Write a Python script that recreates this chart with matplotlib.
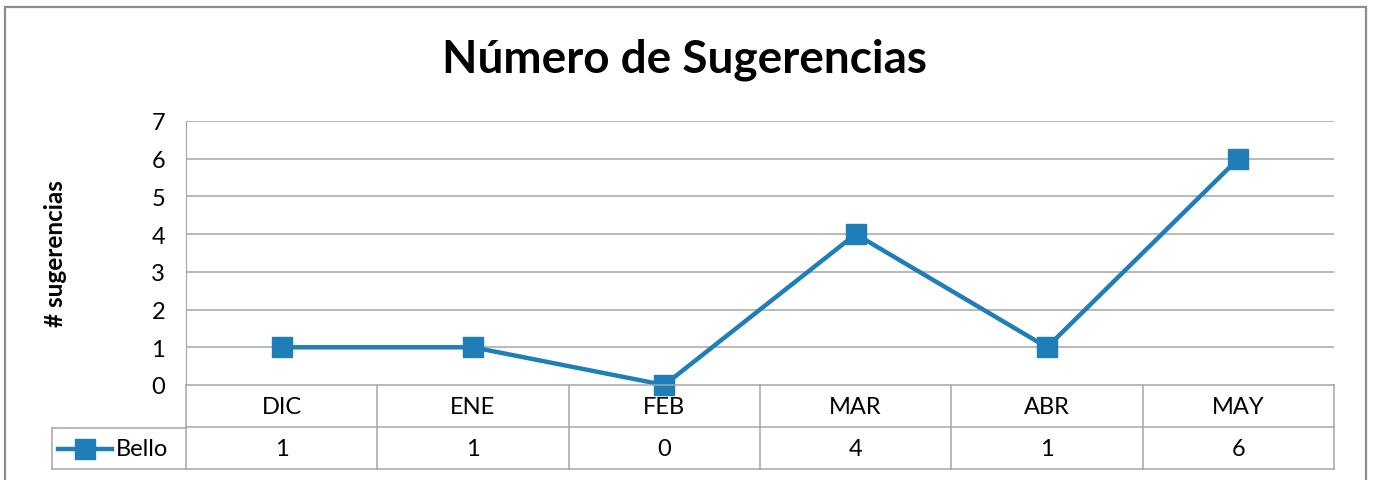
import matplotlib
matplotlib.use("Agg")
import matplotlib.pyplot as plt
from matplotlib.lines import Line2D
from matplotlib.patches import Rectangle

categories = ["DIC", "ENE", "FEB", "MAR", "ABR", "MAY"]
values = [1, 1, 0, 4, 1, 6]
series_name = "Bello"
title = "Número de Sugerencias"
ylabel = "# sugerencias"
yticks = [0, 1, 2, 3, 4, 5, 6, 7]

W, H = 1373, 481
FONT = "Lato"
BLUE = "#1f7eb7"
GRID = "#a6a6a6"
FS = 17

fig = plt.figure(figsize=(W / 100, H / 100), dpi=100)

def fx(px):
    return px / W

def fy(py):
    return 1 - py / H

# outer border
fig.patches.append(Rectangle((fx(5), fy(490)), fx(1366) - fx(5), fy(8) - fy(490),
                             transform=fig.transFigure, fill=False,
                             edgecolor="#8c8c8c", lw=1.6))

L, R, T, B0, B1, B2 = 186, 1334, 122, 386, 429, 470
ax = fig.add_axes([fx(L), fy(B0), fx(R) - fx(L), fy(T) - fy(B0)])
n = len(categories)
x = list(range(n))
ax.set_xlim(-0.5, n - 0.5)
ax.set_ylim(0, 7)
ax.set_yticks(yticks)
ax.set_yticklabels([str(v) for v in yticks], fontsize=FS, family=FONT)
ax.tick_params(axis="y", length=0, pad=15)
ax.set_xticks([])
for s in ["top", "right", "bottom"]:
    ax.spines[s].set_visible(False)
ax.spines["left"].set_color(GRID)
for v in yticks[1:]:
    ax.axhline(v, color=GRID, lw=1.1, zorder=0)
ax.plot(x, values, color=BLUE, lw=3.2, marker="s", markersize=15,
        markerfacecolor=BLUE, markeredgecolor=BLUE, zorder=3, clip_on=False)
ax.set_ylabel(ylabel, fontsize=17.5, fontweight="bold", family=FONT)
ax.yaxis.set_label_coords((67 - L) / (R - L), 0.5)

fig.text(fx(684), fy(60), title, ha="center", va="center", fontsize=33,
         fontweight="bold", family=FONT)

# data table
tab = fig.add_axes([fx(L), fy(B2), fx(R) - fx(L), fy(B0) - fy(B2)], sharex=ax)
tab.set_ylim(2, 0)
tab.axis("off")
for yy in [0, 1, 2]:
    tab.plot([-0.5, n - 0.5], [yy, yy], color=GRID, lw=1.1, clip_on=False)
for i in range(n + 1):
    tab.plot([i - 0.5, i - 0.5], [0, 2], color=GRID, lw=1.1, clip_on=False)
for i, (c, v) in enumerate(zip(categories, values)):
    tab.text(i, 0.5, c, ha="center", va="center", fontsize=FS, family=FONT)
    tab.text(i, 1.5, str(v), ha="center", va="center", fontsize=FS, family=FONT)

# legend cell
lx0 = 52
for seg in [((lx0, B1), (L, B1)), ((lx0, B2), (L, B2)), ((lx0, B1), (lx0, B2))]:
    (a, b), (c, d) = seg
    fig.lines.append(Line2D([fx(a), fx(c)], [fy(b), fy(d)], transform=fig.transFigure,
                            color=GRID, lw=1.1))
ym = (B1 + B2) / 2
fig.lines.append(Line2D([fx(58), fx(112)], [fy(ym), fy(ym)], transform=fig.transFigure,
                        color=BLUE, lw=3.2))
fig.lines.append(Line2D([fx(85)], [fy(ym)], transform=fig.transFigure, color=BLUE,
                        marker="s", markersize=15, markerfacecolor=BLUE,
                        markeredgecolor=BLUE))
fig.text(fx(116), fy(ym), series_name, ha="left", va="center", fontsize=FS, family=FONT)

fig.savefig("out.png", dpi=100)
